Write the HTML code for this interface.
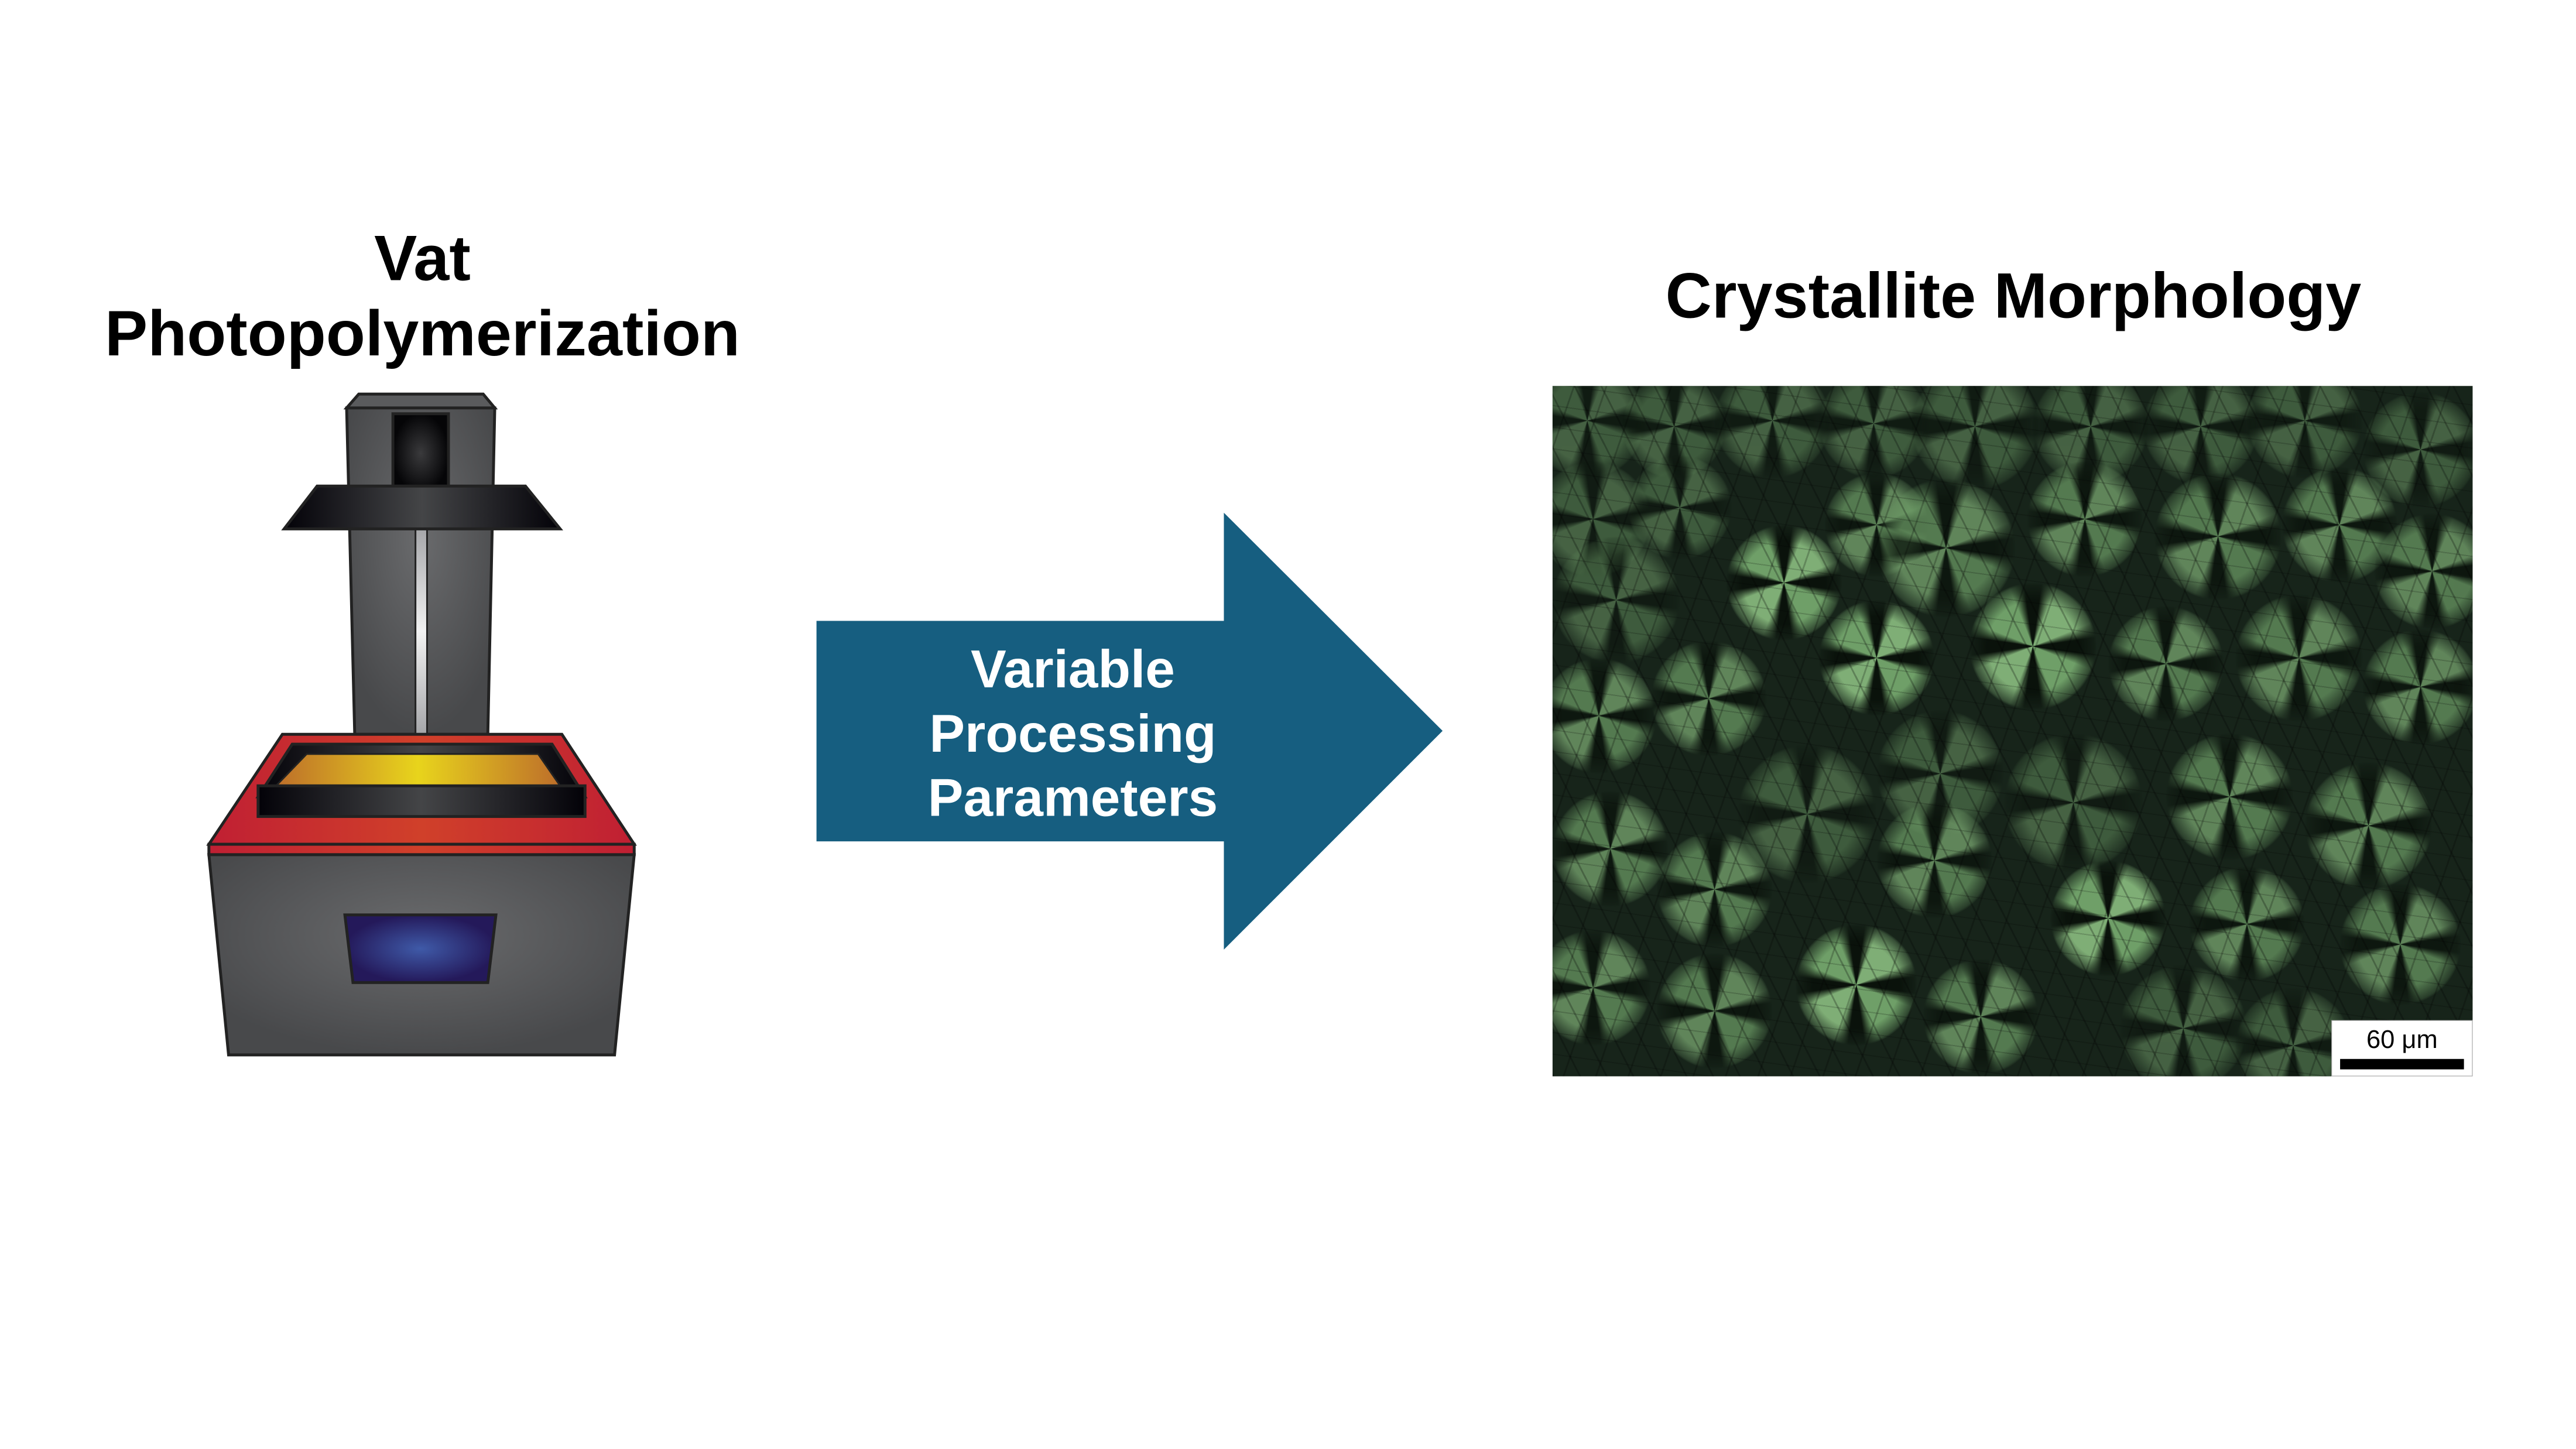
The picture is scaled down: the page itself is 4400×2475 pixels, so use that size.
<!DOCTYPE html>
<html><head><meta charset="utf-8"><style>
body{margin:0;width:4400px;height:2475px;background:#fff;position:relative;overflow:hidden;font-family:"Liberation Sans",Arial,sans-serif}
#w{position:absolute;left:0;top:0;width:4452px;height:2504px;transform:scale(0.9884);transform-origin:0 0}
.t{position:absolute;font-weight:bold;color:#000;text-align:center;line-height:130px;white-space:nowrap}
#mg{position:absolute;left:2683px;top:667px;width:1590px;height:1193px;overflow:hidden;background:#17241a;}
.c{position:absolute;border-radius:50%;background:conic-gradient(#0a120b 0 8deg,#7fae76 22deg 68deg,#0a120b 82deg 98deg,#6f9f68 112deg 158deg,#0a120b 172deg 188deg,#7fae76 202deg 248deg,#0a120b 262deg 278deg,#6f9f68 292deg 338deg,#0a120b 352deg);-webkit-mask:radial-gradient(circle,#000 0,#000 50%,rgba(0,0,0,.3) 68%,transparent 71%);mask:radial-gradient(circle,#000 0,#000 50%,rgba(0,0,0,.3) 68%,transparent 71%)}
.d{opacity:.45}
.s{opacity:.7}
#tx{position:absolute;inset:0;background:repeating-linear-gradient(63deg,rgba(0,0,0,.25) 0 3px,transparent 3px 41px),repeating-linear-gradient(-71deg,rgba(0,0,0,.22) 0 3px,transparent 3px 53px),repeating-linear-gradient(8deg,rgba(0,0,0,.18) 0 2px,transparent 2px 37px)}
</style></head><body><div id="w">
<div class="t" style="left:130px;width:1200px;top:381px;font-size:111px">Vat<br>Photopolymerization</div>
<div class="t" style="left:2878px;width:1200px;top:446px;font-size:111px">Crystallite Morphology</div>

<svg style="position:absolute;left:0;top:0" width="4452" height="2504">
<defs>
<radialGradient id="gr" cx="50%" cy="40%" r="60%"><stop offset="0" stop-color="#6a6b6d"/><stop offset="1" stop-color="#48494b"/></radialGradient>
<linearGradient id="red" x1="0" x2="1"><stop offset="0" stop-color="#c01f33"/><stop offset=".5" stop-color="#d0402a"/><stop offset="1" stop-color="#c01f33"/></linearGradient>
<linearGradient id="yel" x1="0" x2="1"><stop offset="0" stop-color="#bd6e2a"/><stop offset=".5" stop-color="#e8d41c"/><stop offset="1" stop-color="#bd6e2a"/></linearGradient>
<linearGradient id="blk" x1="0" x2="1"><stop offset="0" stop-color="#030208"/><stop offset=".5" stop-color="#444547"/><stop offset="1" stop-color="#030208"/></linearGradient>
<radialGradient id="blu"><stop offset="0" stop-color="#3f5aa8"/><stop offset="1" stop-color="#24195a"/></radialGradient>
<linearGradient id="rod" x1="0" y1="0" x2="0" y2="1"><stop offset="0" stop-color="#a5a6a9"/><stop offset=".5" stop-color="#f2f2f2"/><stop offset="1" stop-color="#a5a6a9"/></linearGradient>
<radialGradient id="bk"><stop offset="0" stop-color="#3a3a3c"/><stop offset="1" stop-color="#050507"/></radialGradient>
</defs>
<g stroke="#222" stroke-width="5">
<polygon points="620,681 835,681 855,705 599,705" fill="#5a5b5d"/>
<polygon points="599,705 855,705 843,1269 613,1269" fill="url(#gr)"/>
<rect x="718" y="914" width="20" height="355" fill="url(#rod)" stroke-width="3"/>
<rect x="679" y="715" width="96" height="137" fill="url(#bk)"/>
<polygon points="548,840 908,840 968,914 491,914" fill="url(#blk)"/>
<polygon points="488,1269 971,1269 1096,1459 361,1459" fill="url(#red)"/>
<rect x="361" y="1459" width="735" height="18" fill="url(#red)"/>
<polygon points="361,1477 1096,1477 1062,1823 395,1823" fill="url(#gr)"/>
<polygon points="505,1286 954,1286 1011,1377 446,1377" fill="url(#blk)"/>
<polygon points="530,1303 930,1303 968,1358 477,1358" fill="url(#yel)" stroke-width="3"/>
<rect x="446" y="1358" width="565" height="53" fill="url(#blk)"/>
<polygon points="596,1581 857,1581 843,1698 610,1698" fill="url(#blu)"/>
</g>
<polygon points="1411,1073 2115,1073 2115,886 2493,1263 2115,1641 2115,1454 1411,1454" fill="#165e80"/>
<text x="1854" y="1188" fill="#fff" font-size="92" font-weight="bold" text-anchor="middle" font-family="Liberation Sans,Arial,sans-serif">Variable</text>
<text x="1854" y="1299" fill="#fff" font-size="92" font-weight="bold" text-anchor="middle" font-family="Liberation Sans,Arial,sans-serif">Processing</text>
<text x="1854" y="1410" fill="#fff" font-size="92" font-weight="bold" text-anchor="middle" font-family="Liberation Sans,Arial,sans-serif">Parameters</text>
</svg>

<div id="mg">
<div class="c d" style="left:-40px;top:-40px;width:200px;height:200px"></div>
<div class="c d" style="left:120px;top:-20px;width:180px;height:180px"></div>
<div class="c d" style="left:280px;top:-40px;width:200px;height:200px"></div>
<div class="c d" style="left:460px;top:-30px;width:190px;height:190px"></div>
<div class="c d" style="left:620px;top:-40px;width:220px;height:220px"></div>
<div class="c d" style="left:830px;top:-30px;width:200px;height:200px"></div>
<div class="c d" style="left:1020px;top:-30px;width:200px;height:200px"></div>
<div class="c d" style="left:1200px;top:-40px;width:200px;height:200px"></div>
<div class="c d" style="left:1400px;top:10px;width:200px;height:200px"></div>
<div class="c d" style="left:-30px;top:130px;width:200px;height:200px"></div>
<div class="c d" style="left:130px;top:120px;width:180px;height:180px"></div>
<div class="c" style="left:300px;top:240px;width:200px;height:200px"></div>
<div class="c s" style="left:470px;top:150px;width:180px;height:180px"></div>
<div class="c s" style="left:560px;top:160px;width:240px;height:240px"></div>
<div class="c s" style="left:820px;top:130px;width:200px;height:200px"></div>
<div class="c s" style="left:1040px;top:150px;width:220px;height:220px"></div>
<div class="c s" style="left:1260px;top:140px;width:200px;height:200px"></div>
<div class="c s" style="left:1420px;top:220px;width:200px;height:200px"></div>
<div class="c d" style="left:0px;top:260px;width:220px;height:220px"></div>
<div class="c" style="left:460px;top:370px;width:200px;height:200px"></div>
<div class="c" style="left:720px;top:340px;width:220px;height:220px"></div>
<div class="c s" style="left:960px;top:380px;width:200px;height:200px"></div>
<div class="c s" style="left:1180px;top:360px;width:220px;height:220px"></div>
<div class="c s" style="left:1400px;top:420px;width:200px;height:200px"></div>
<div class="c s" style="left:-20px;top:470px;width:200px;height:200px"></div>
<div class="c s" style="left:170px;top:440px;width:200px;height:200px"></div>
<div class="c d" style="left:320px;top:620px;width:240px;height:240px"></div>
<div class="c d" style="left:560px;top:560px;width:220px;height:220px"></div>
<div class="c d" style="left:780px;top:600px;width:240px;height:240px"></div>
<div class="c s" style="left:1060px;top:600px;width:220px;height:220px"></div>
<div class="c s" style="left:1300px;top:650px;width:220px;height:220px"></div>
<div class="c s" style="left:0px;top:700px;width:200px;height:200px"></div>
<div class="c s" style="left:180px;top:770px;width:200px;height:200px"></div>
<div class="c s" style="left:560px;top:720px;width:200px;height:200px"></div>
<div class="c" style="left:860px;top:820px;width:200px;height:200px"></div>
<div class="c s" style="left:1100px;top:830px;width:200px;height:200px"></div>
<div class="c s" style="left:1360px;top:860px;width:210px;height:210px"></div>
<div class="c s" style="left:-30px;top:940px;width:200px;height:200px"></div>
<div class="c s" style="left:180px;top:980px;width:200px;height:200px"></div>
<div class="c" style="left:420px;top:930px;width:210px;height:210px"></div>
<div class="c s" style="left:640px;top:990px;width:200px;height:200px"></div>
<div class="c d" style="left:980px;top:1000px;width:220px;height:220px"></div>
<div class="c d" style="left:1180px;top:1040px;width:200px;height:200px"></div>
<div id="tx"></div>
</div>
<div style="position:absolute;left:4029px;top:1763px;width:244px;height:97px;background:#fff;border:1px solid #999;box-sizing:border-box">
<div style="position:absolute;left:0;width:100%;top:8px;text-align:center;font-size:44px;line-height:50px">60 μm</div>
<div style="position:absolute;left:14px;right:14px;top:66px;height:18px;background:#000"></div>
</div>
</div></body></html>
